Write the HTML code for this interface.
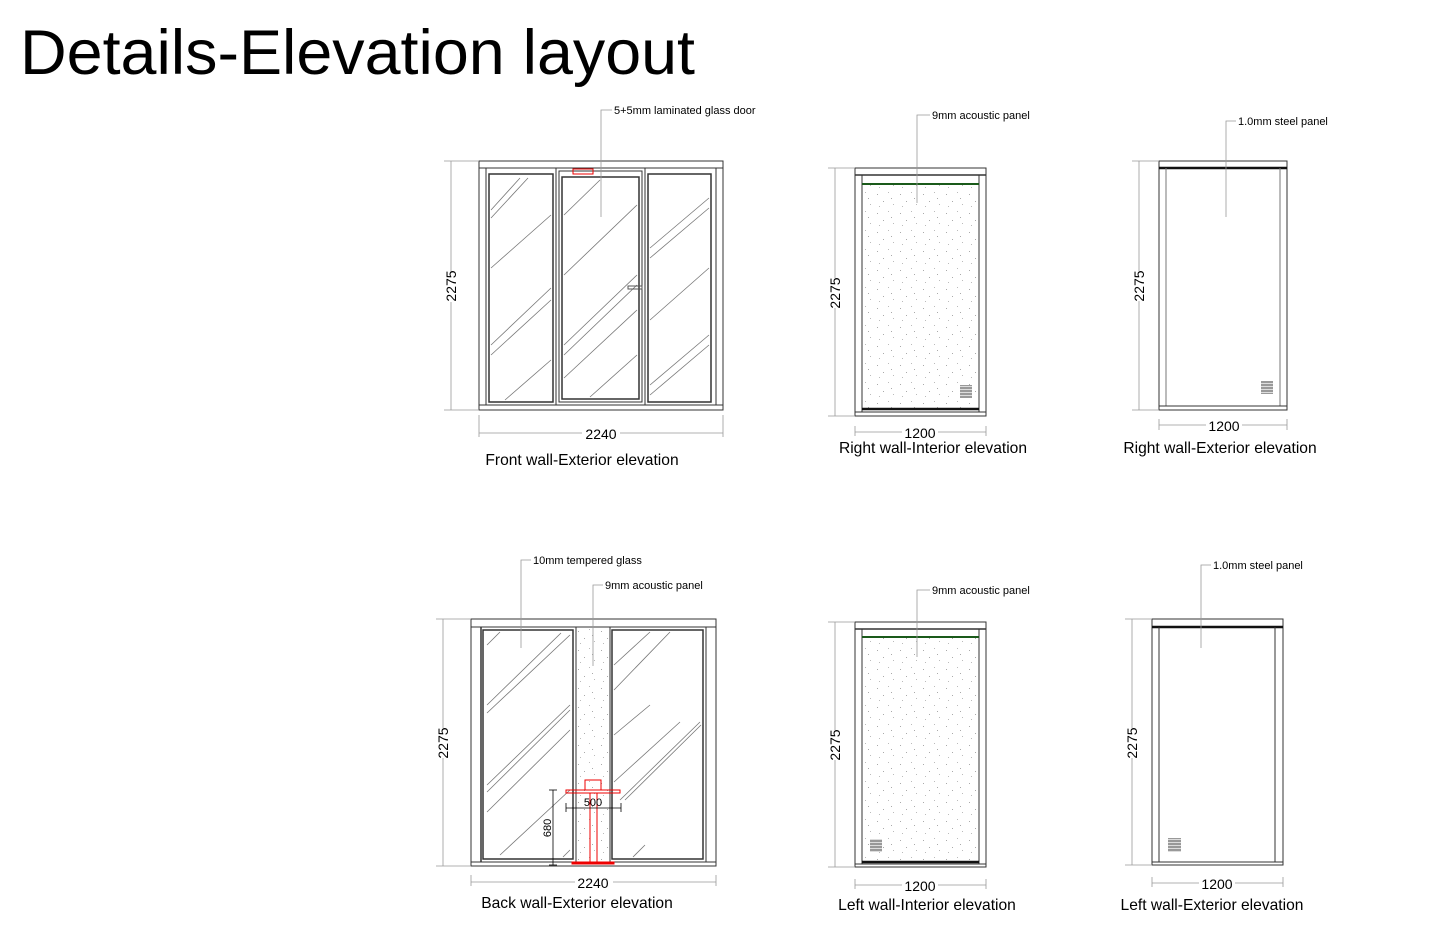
<!DOCTYPE html>
<html><head><meta charset="utf-8"><style>
html,body{margin:0;padding:0;background:#fff;}
svg{display:block;}
text{font-family:"Liberation Sans",sans-serif;fill:#000;}
.c{font-size:15.6px;text-anchor:middle;}
.d{font-size:14px;text-anchor:middle;}
.l{font-size:11px;}
</style></head><body>
<svg width="1445" height="935" viewBox="0 0 1445 935" xmlns="http://www.w3.org/2000/svg">
<defs>
<pattern id="sp" width="23" height="19" patternUnits="userSpaceOnUse">
<rect x="3" y="4" width="1" height="1" fill="#aaa"/><rect x="14" y="2" width="1" height="1" fill="#bbb"/>
<rect x="9" y="11" width="1" height="1" fill="#aaa"/><rect x="19" y="14" width="1" height="1" fill="#bbb"/>
<rect x="5" y="16" width="1" height="1" fill="#bbb"/><rect x="17" y="8" width="1" height="1" fill="#aaa"/>
</pattern>
<pattern id="vent" width="12" height="3" patternUnits="userSpaceOnUse"><rect width="12" height="3" fill="#999"/><rect y="2" width="12" height="1" fill="#ddd"/></pattern>
</defs>
<text x="20" y="74" style="font-size:63px" textLength="675" lengthAdjust="spacingAndGlyphs">Details-Elevation layout</text>

<g fill="none" stroke="#333" stroke-width="1">
<rect x="479" y="161" width="244" height="249"/>
<line x1="479" y1="168" x2="723" y2="168"/>
<line x1="486" y1="168" x2="486" y2="405"/><line x1="716" y1="168" x2="716" y2="405"/>
<line x1="479" y1="405" x2="723" y2="405"/>
<rect x="489" y="174" width="64" height="228" stroke-width="1.5"/>
<rect x="556" y="168" width="89" height="237"/>
<rect x="559" y="171" width="83" height="231"/>
<rect x="562" y="177" width="77" height="222" stroke-width="1.5"/>
<rect x="648" y="174" width="63" height="228" stroke-width="1.5"/>
<g stroke="#777" stroke-width="0.8">
<line x1="491" y1="210" x2="520" y2="178"/><line x1="491" y1="218" x2="528" y2="178"/><line x1="491" y1="268" x2="551" y2="215"/>
<line x1="491" y1="345" x2="551" y2="288"/><line x1="491" y1="355" x2="551" y2="300"/><line x1="505" y1="400" x2="551" y2="360"/>
<line x1="564" y1="215" x2="600" y2="180"/><line x1="564" y1="275" x2="637" y2="205"/><line x1="564" y1="345" x2="637" y2="275"/>
<line x1="564" y1="355" x2="637" y2="285"/><line x1="564" y1="378" x2="637" y2="310"/><line x1="590" y1="397" x2="637" y2="355"/>
<line x1="650" y1="248" x2="709" y2="198"/><line x1="650" y1="258" x2="709" y2="208"/><line x1="650" y1="320" x2="709" y2="268"/>
<line x1="650" y1="385" x2="709" y2="335"/><line x1="650" y1="395" x2="709" y2="345"/>
</g>
<rect x="628" y="286" width="14" height="3" stroke="#555"/>
<rect x="573" y="169" width="20" height="5" stroke="#e00"/>
</g>
<g fill="none" stroke="#999" stroke-width="0.8">
<line x1="451" y1="161" x2="451" y2="410"/><line x1="444" y1="161" x2="479" y2="161"/><line x1="444" y1="410" x2="479" y2="410"/>
<line x1="479" y1="433" x2="723" y2="433"/><line x1="479" y1="415" x2="479" y2="437"/><line x1="723" y1="415" x2="723" y2="437"/>
<polyline points="612,110 601,110 601,217"/>
</g>
<rect x="438" y="272" width="26" height="30" fill="#fff"/>
<text class="d" transform="translate(456,286) rotate(-90)">2275</text>
<rect x="582" y="425" width="38" height="16" fill="#fff"/>
<text class="d" x="601" y="439">2240</text>
<text class="c" x="582" y="465">Front wall-Exterior elevation</text>
<text class="l" x="614" y="114">5+5mm laminated glass door</text>

<rect x="862" y="184" width="117" height="226" fill="url(#sp)"/>
<g fill="none" stroke="#333" stroke-width="1">
<rect x="855" y="168" width="131" height="248"/>
<line x1="855" y1="175" x2="986" y2="175" stroke-width="1.5"/>
<line x1="862" y1="175" x2="862" y2="412"/><line x1="979" y1="175" x2="979" y2="412"/>
<line x1="862" y1="184" x2="979" y2="184" stroke="#1a5a1a" stroke-width="2"/>
<line x1="862" y1="409" x2="979" y2="409" stroke="#111" stroke-width="2.5"/>
<line x1="855" y1="412" x2="986" y2="412"/>
</g>
<rect x="960" y="385" width="12" height="13" fill="url(#vent)"/>
<g fill="none" stroke="#999" stroke-width="0.8">
<line x1="835" y1="168" x2="835" y2="416"/><line x1="828" y1="168" x2="855" y2="168"/><line x1="828" y1="416" x2="855" y2="416"/>
<line x1="855" y1="432" x2="986" y2="432"/><line x1="855" y1="426" x2="855" y2="436"/><line x1="986" y1="426" x2="986" y2="436"/>
<polyline points="930,115 917,115 917,203"/>
</g>
<rect x="822" y="278" width="26" height="30" fill="#fff"/>
<text class="d" transform="translate(840,293) rotate(-90)">2275</text>
<rect x="902" y="425" width="36" height="15" fill="#fff"/>
<text class="d" x="920" y="438">1200</text>
<text class="c" x="933" y="453">Right wall-Interior elevation</text>
<text class="l" x="932" y="119">9mm acoustic panel</text>

<g fill="none" stroke="#333" stroke-width="1">
<rect x="1159" y="161" width="128" height="249"/>
<line x1="1159" y1="168" x2="1287" y2="168" stroke="#111" stroke-width="2.5"/>
<line x1="1166" y1="168" x2="1166" y2="406" stroke="#777"/><line x1="1280" y1="168" x2="1280" y2="406" stroke="#777"/>
<line x1="1159" y1="406" x2="1287" y2="406"/>
</g>
<rect x="1261" y="381" width="12" height="13" fill="url(#vent)"/>
<g fill="none" stroke="#999" stroke-width="0.8">
<line x1="1139" y1="161" x2="1139" y2="410"/><line x1="1132" y1="161" x2="1159" y2="161"/><line x1="1132" y1="410" x2="1159" y2="410"/>
<line x1="1159" y1="425" x2="1287" y2="425"/><line x1="1159" y1="419" x2="1159" y2="430"/><line x1="1287" y1="419" x2="1287" y2="430"/>
<polyline points="1236,121 1226,121 1226,217"/>
</g>
<rect x="1126" y="271" width="26" height="30" fill="#fff"/>
<text class="d" transform="translate(1144,286) rotate(-90)">2275</text>
<rect x="1206" y="418" width="36" height="15" fill="#fff"/>
<text class="d" x="1224" y="431">1200</text>
<text class="c" x="1220" y="453">Right wall-Exterior elevation</text>
<text class="l" x="1238" y="125">1.0mm steel panel</text>

<rect x="576" y="627" width="34" height="235" fill="url(#sp)"/>
<g fill="none" stroke="#333" stroke-width="1">
<rect x="471" y="619" width="245" height="247"/>
<line x1="471" y1="627" x2="716" y2="627"/>
<line x1="481" y1="627" x2="481" y2="862" stroke-width="1.5"/><line x1="706" y1="627" x2="706" y2="862"/>
<line x1="471" y1="862" x2="716" y2="862"/>
<rect x="483" y="630" width="90" height="229" stroke-width="1.5"/>
<line x1="576" y1="627" x2="576" y2="862"/><line x1="610" y1="627" x2="610" y2="862"/>
<rect x="612" y="630" width="91" height="229" stroke-width="1.5"/>
<g stroke="#777" stroke-width="0.8">
<line x1="487" y1="645" x2="500" y2="632"/><line x1="487" y1="705" x2="561" y2="633"/><line x1="487" y1="713" x2="570" y2="635"/>
<line x1="487" y1="785" x2="570" y2="705"/><line x1="487" y1="792" x2="570" y2="710"/><line x1="487" y1="812" x2="570" y2="730"/>
<line x1="500" y1="855" x2="570" y2="790"/><line x1="563" y1="857" x2="570" y2="850"/>
<line x1="614" y1="665" x2="650" y2="632"/><line x1="614" y1="690" x2="670" y2="632"/><line x1="614" y1="735" x2="650" y2="705"/>
<line x1="614" y1="782" x2="680" y2="722"/><line x1="620" y1="800" x2="700" y2="722"/><line x1="625" y1="800" x2="701" y2="725"/>
<line x1="633" y1="857" x2="645" y2="845"/>
</g>
</g>
<g fill="none" stroke="#e00" stroke-width="1">
<rect x="585" y="780" width="16" height="10"/>
<rect x="566" y="790" width="54" height="3"/>
<line x1="590" y1="793" x2="590" y2="862"/><line x1="597" y1="793" x2="597" y2="862"/>
<rect x="572" y="862" width="42" height="2" fill="#e00"/>
</g>
<g fill="none" stroke="#000" stroke-width="0.8">
<line x1="553" y1="790" x2="553" y2="865"/><line x1="549" y1="790" x2="557" y2="790"/><line x1="549" y1="865" x2="557" y2="865"/>
<line x1="566" y1="808" x2="621" y2="808"/><line x1="566" y1="803" x2="566" y2="812"/><line x1="621" y1="803" x2="621" y2="812"/>
</g>
<text style="font-size:11px" text-anchor="middle" transform="translate(551,828) rotate(-90)">680</text>
<text style="font-size:11px" text-anchor="middle" x="593" y="806">500</text>
<g fill="none" stroke="#999" stroke-width="0.8">
<line x1="443" y1="619" x2="443" y2="866"/><line x1="436" y1="619" x2="471" y2="619"/><line x1="436" y1="866" x2="471" y2="866"/>
<line x1="471" y1="882" x2="716" y2="882"/><line x1="471" y1="875" x2="471" y2="886"/><line x1="716" y1="875" x2="716" y2="886"/>
<polyline points="531,560 521,560 521,648"/><polyline points="603,585 593,585 593,666"/>
</g>
<rect x="430" y="728" width="26" height="30" fill="#fff"/>
<text class="d" transform="translate(448,743) rotate(-90)">2275</text>
<rect x="575" y="875" width="38" height="15" fill="#fff"/>
<text class="d" x="593" y="888">2240</text>
<text class="c" x="577" y="908">Back wall-Exterior elevation</text>
<text class="l" x="533" y="564">10mm tempered glass</text>
<text class="l" x="605" y="589">9mm acoustic panel</text>

<rect x="862" y="637" width="117" height="225" fill="url(#sp)"/>
<g fill="none" stroke="#333" stroke-width="1">
<rect x="855" y="622" width="131" height="245"/>
<line x1="855" y1="629" x2="986" y2="629" stroke-width="1.5"/>
<line x1="862" y1="629" x2="862" y2="864"/><line x1="979" y1="629" x2="979" y2="864"/>
<line x1="862" y1="637" x2="979" y2="637" stroke="#1a5a1a" stroke-width="2"/>
<line x1="862" y1="862" x2="979" y2="862" stroke="#111" stroke-width="2.5"/>
<line x1="855" y1="864" x2="986" y2="864"/>
</g>
<rect x="870" y="839" width="12" height="13" fill="url(#vent)"/>
<g fill="none" stroke="#999" stroke-width="0.8">
<line x1="835" y1="622" x2="835" y2="867"/><line x1="828" y1="622" x2="855" y2="622"/><line x1="828" y1="867" x2="855" y2="867"/>
<line x1="855" y1="885" x2="986" y2="885"/><line x1="855" y1="879" x2="855" y2="889"/><line x1="986" y1="879" x2="986" y2="889"/>
<polyline points="930,590 917,590 917,657"/>
</g>
<rect x="822" y="730" width="26" height="30" fill="#fff"/>
<text class="d" transform="translate(840,745) rotate(-90)">2275</text>
<rect x="902" y="878" width="36" height="15" fill="#fff"/>
<text class="d" x="920" y="891">1200</text>
<text class="c" x="927" y="910">Left wall-Interior elevation</text>
<text class="l" x="932" y="594">9mm acoustic panel</text>

<g fill="none" stroke="#333" stroke-width="1">
<rect x="1152" y="619" width="131" height="246"/>
<line x1="1152" y1="627" x2="1283" y2="627" stroke="#111" stroke-width="2.5"/>
<line x1="1159" y1="627" x2="1159" y2="862"/><line x1="1275" y1="627" x2="1275" y2="862"/>
<line x1="1152" y1="862" x2="1283" y2="862"/>
</g>
<rect x="1168" y="838" width="13" height="14" fill="url(#vent)"/>
<g fill="none" stroke="#999" stroke-width="0.8">
<line x1="1132" y1="619" x2="1132" y2="865"/><line x1="1125" y1="619" x2="1152" y2="619"/><line x1="1125" y1="865" x2="1152" y2="865"/>
<line x1="1152" y1="883" x2="1283" y2="883"/><line x1="1152" y1="877" x2="1152" y2="887"/><line x1="1283" y1="877" x2="1283" y2="887"/>
<polyline points="1211,565 1201,565 1201,648"/>
</g>
<rect x="1119" y="728" width="26" height="30" fill="#fff"/>
<text class="d" transform="translate(1137,743) rotate(-90)">2275</text>
<rect x="1199" y="876" width="36" height="15" fill="#fff"/>
<text class="d" x="1217" y="889">1200</text>
<text class="c" x="1212" y="910">Left wall-Exterior elevation</text>
<text class="l" x="1213" y="569">1.0mm steel panel</text>
</svg>
</body></html>
